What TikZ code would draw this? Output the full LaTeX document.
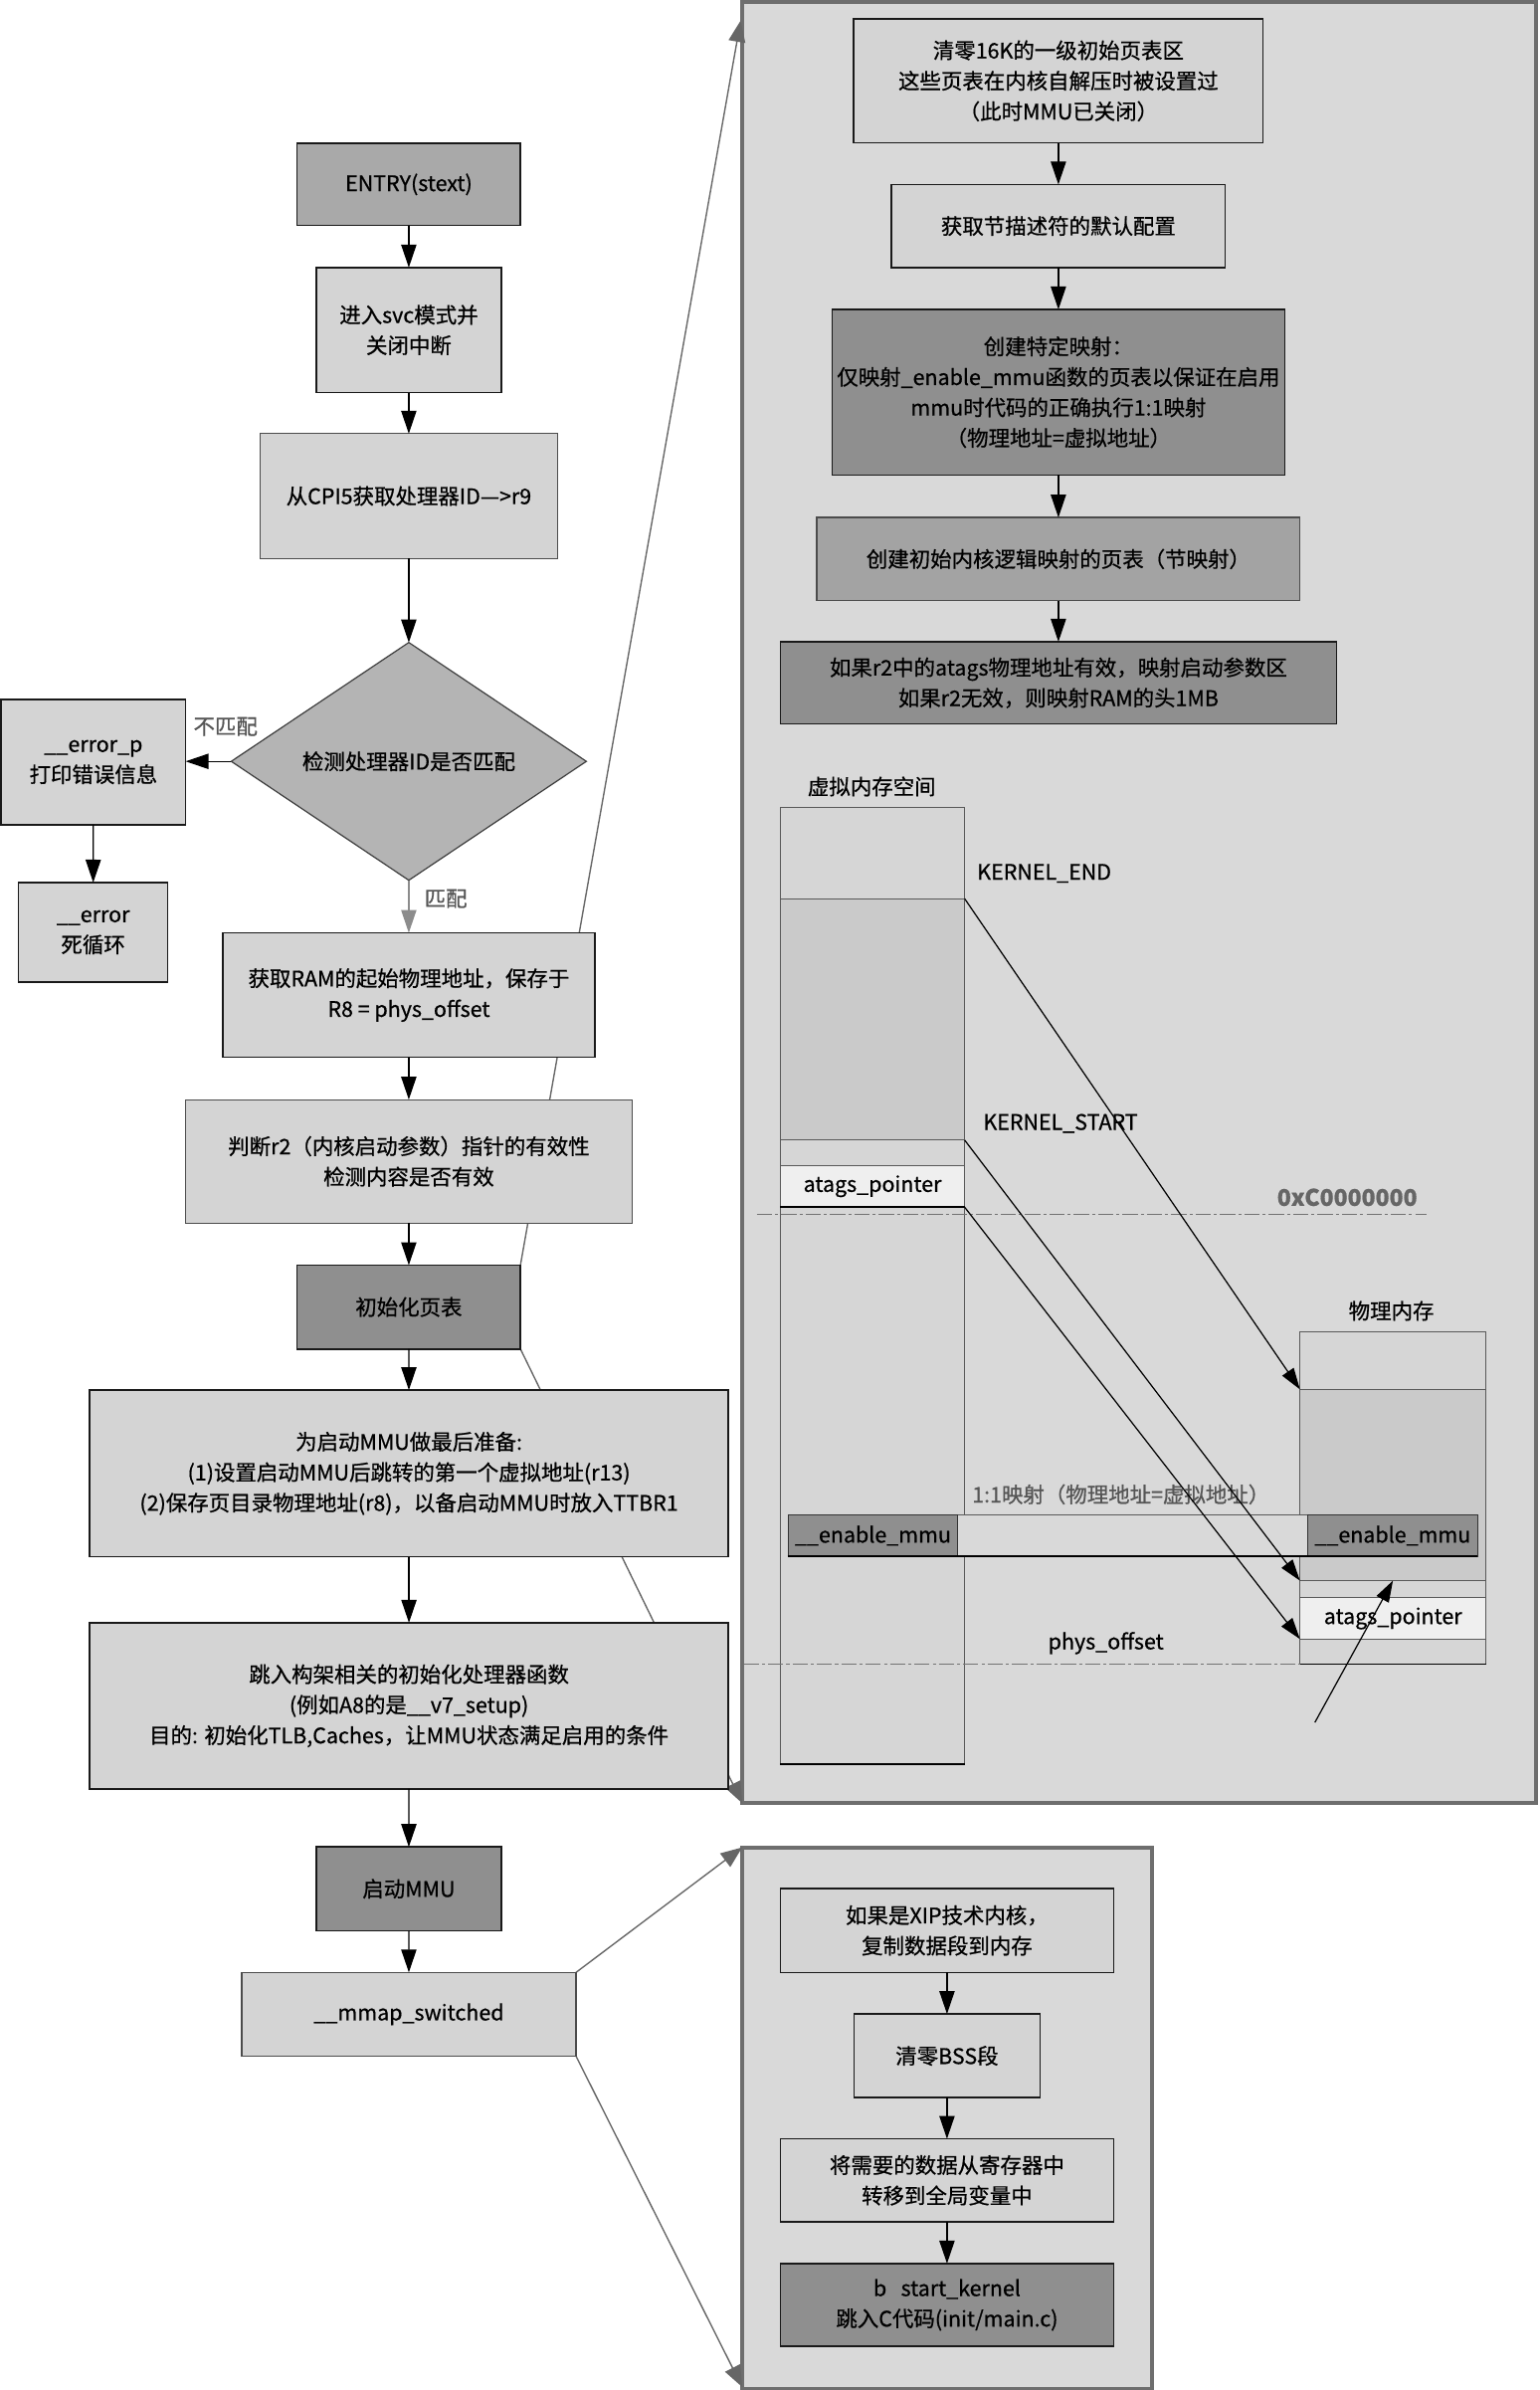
\documentclass[tikz,border=0pt]{standalone}
\usepackage{fontspec}
\setmainfont{Noto Sans CJK SC}[FakeBold=0.7]
\usetikzlibrary{arrows.meta,shapes.geometric}
\definecolor{panelfill}{HTML}{D9D9D9}
\definecolor{panelborder}{HTML}{6E6E6E}
\definecolor{lightbox}{HTML}{D4D4D4}
\definecolor{midbox}{HTML}{A9A9A9}
\definecolor{diafill}{HTML}{B4B4B4}
\definecolor{darkbox}{HTML}{8F8F8F}
\definecolor{midtwo}{HTML}{A3A3A3}
\definecolor{memlight}{HTML}{D6D6D6}
\definecolor{memdark}{HTML}{CACACA}
\definecolor{memwhite}{HTML}{EFEFEF}
\definecolor{graytext}{HTML}{555555}
\definecolor{linkgray}{HTML}{666666}
\pgfdeclarelayer{bg}
\pgfdeclarelayer{links}
\pgfsetlayers{bg,links,main}
\begin{document}
\begin{tikzpicture}[x=1pt,y=-1pt,
  box/.style={draw=black!90, line width=1pt, fill=lightbox, inner sep=0pt, outer sep=0pt,
    align=center, font=\fontsize{14}{20}\selectfont},
  boxthin/.style={box, draw=black!70, line width=0.8pt},
  panel/.style={draw=panelborder, line width=2.6pt, fill=panelfill, inner sep=0pt, outer sep=0pt},
  flow/.style={draw=black, line width=0.8pt, -{Triangle[length=15pt,width=10pt]}},
  matchflow/.style={draw=black!45, line width=0.8pt, -{Triangle[length=15pt,width=10pt]}},
  link/.style={draw=linkgray, line width=0.9pt, -{Triangle[length=14pt,width=11pt]}},
  mem/.style={draw=black!65, line width=0.6pt, inner sep=0pt, outer sep=0pt, font=\fontsize{14}{16}\selectfont},
  memarrow/.style={draw=black, line width=0.8pt, -{Triangle[length=14pt,width=9pt]}},
  lbl/.style={inner sep=0pt, font=\fontsize{14}{16}\selectfont},
  graylbl/.style={lbl, text=graytext},
  dashline/.style={draw=black!55, line width=0.6pt, dash pattern=on 10pt off 2pt on 2pt off 2pt}
]
\useasboundingbox (0,0) rectangle (1010,1568);

% ---------------- panels ----------------
\begin{pgfonlayer}{bg}
\node[panel, minimum width=521pt, minimum height=1182pt] (bigpanel) at (747.5,592) {};
\node[panel, minimum width=269pt, minimum height=355pt] (smallpanel) at (621.5,1389.5) {};
\end{pgfonlayer}

% ---------------- main flow ----------------
\node[box, fill=midbox, minimum width=146.5pt, minimum height=54pt] (entry) at (268.25,121) {ENTRY(stext)};
\node[box, minimum width=121.6pt, minimum height=82.1pt] (svc) at (268.25,216.55) {进入svc模式并\\关闭中断};
\node[boxthin, minimum width=195pt, minimum height=81.8pt] (cpi) at (268.25,325.4) {从CPI5获取处理器ID—>r9};
\node[draw=black!75, line width=0.8pt, fill=diafill, shape=diamond, inner sep=0pt, outer sep=0pt,
  minimum width=233pt, minimum height=156pt, font=\fontsize{14}{20}\selectfont] (dia) at (268.25,499.5) {检测处理器ID是否匹配};
\node[box, minimum width=121pt, minimum height=82pt] (errp) at (61.3,500) {\_\_error\_p\\打印错误信息};
\node[box, minimum width=97.8pt, minimum height=65.4pt] (err) at (61.1,611.7) {\_\_error\\死循环};
\node[box, minimum width=244pt, minimum height=81.7pt] (ram) at (268.25,652.85) {获取RAM的起始物理地址，保存于\\R8 = phys\_offset};
\node[boxthin, minimum width=292.7pt, minimum height=81pt] (rtwo) at (268.25,761.9) {判断r2（内核启动参数）指针的有效性\\检测内容是否有效};
\node[box, fill=darkbox, minimum width=146.5pt, minimum height=55pt] (initpt) at (268.25,857.5) {初始化页表};
\node[box, minimum width=419.3pt, minimum height=109.3pt] (prep) at (268.35,966.65) {为启动MMU做最后准备:\\(1)设置启动MMU后跳转的第一个虚拟地址(r13)\\(2)保存页目录物理地址(r8)，以备启动MMU时放入TTBR1};
\node[box, minimum width=419.3pt, minimum height=109.1pt] (jump) at (268.35,1119.15) {跳入构架相关的初始化处理器函数\\(例如A8的是\_\_v7\_setup)\\目的: 初始化TLB,Caches，让MMU状态满足启用的条件};
\node[box, fill=darkbox, minimum width=121.6pt, minimum height=54.9pt] (mmu) at (268.25,1239.15) {启动MMU};
\node[boxthin, minimum width=219.4pt, minimum height=55pt] (mmap) at (268.3,1321.5) {\_\_mmap\_switched};

\node[graylbl] (nomatch) at (148,476.7) {不匹配};
\node[graylbl] (match) at (292.5,589.6) {匹配};

\draw[flow] (entry) -- (svc);
\draw[flow] (svc) -- (cpi);
\draw[flow] (cpi) -- (dia);
\draw[flow] (dia.west) -- (dia.west -| errp.east);
\draw[flow] (errp) -- (err);
\draw[matchflow] (dia.south) -- (ram.north);
\draw[flow] (ram) -- (rtwo);
\draw[flow] (rtwo) -- (initpt);
\draw[flow] (initpt) -- (prep);
\draw[flow] (prep) -- (jump);
\draw[flow] (jump) -- (mmu);
\draw[flow] (mmu) -- (mmap);

% ---------------- links to panels ----------------
\coordinate (ptl) at (486,13.5);
\coordinate (pbl) at (487,1183);
\coordinate (qtl) at (487,1212);
\coordinate (qbl) at (487,1566);
\begin{pgfonlayer}{links}
\draw[link] (initpt.north east) -- (ptl);
\draw[link] (initpt.south east) -- (pbl);
\draw[link] (mmap.north east) -- (qtl);
\draw[link] (mmap.south east) -- (qbl);
\end{pgfonlayer}

% ---------------- big panel flow ----------------
\node[box, minimum width=268.6pt, minimum height=81.2pt] (zone) at (694.5,53.1) {清零16K的一级初始页表区\\这些页表在内核自解压时被设置过\\（此时MMU已关闭）};
\node[box, minimum width=219pt, minimum height=54.5pt] (ztwo) at (694.5,148.25) {获取节描述符的默认配置};
\node[box, fill=darkbox, minimum width=297pt, minimum height=108.7pt] (zthree) at (694.5,257.35) {创建特定映射：\\仅映射\_enable\_mmu函数的页表以保证在启用\\mmu时代码的正确执行1:1映射\\（物理地址=虚拟地址）};
\node[boxthin, fill=midtwo, minimum width=317pt, minimum height=54.5pt] (zfour) at (694.5,366.75) {创建初始内核逻辑映射的页表（节映射）};
\node[box, fill=darkbox, minimum width=365pt, minimum height=54pt] (zfive) at (694.5,448) {如果r2中的atags物理地址有效，映射启动参数区\\如果r2无效，则映射RAM的头1MB};
\draw[flow] (zone) -- (ztwo);
\draw[flow] (ztwo) -- (zthree);
\draw[flow] (zthree) -- (zfour);
\draw[flow] (zfour) -- (zfive);

% ---------------- memory diagram ----------------
\node[lbl] (vlabel) at (572,516) {虚拟内存空间};
\node[mem, fill=memlight, minimum width=121pt, minimum height=59.6pt] (vtop) at (572.5,559.8) {};
\node[mem, fill=memdark, minimum width=121pt, minimum height=158.4pt] (vkern) at (572.5,668.8) {};
\node[mem, fill=memlight, minimum width=121pt, minimum height=16.5pt] (vgap) at (572.5,756.25) {};
\node[mem, fill=memwhite, minimum width=121pt, minimum height=27.5pt] (vatags) at (572.5,778.25) {atags\_pointer};
\node[mem, fill=memlight, minimum width=121pt, minimum height=365.3pt] (vlow) at (572.5,974.65) {};
\draw[line width=1.2pt] (vatags.south west) -- (vatags.south east);
\draw[line width=1.4pt] (vlow.south west) -- (vlow.south east);

\node[lbl, anchor=west] (kend) at (641,573) {KERNEL\_END};
\node[lbl, anchor=west] (kstart) at (645,737) {KERNEL\_START};
\node[lbl, text=black!60, font=\fontsize{15}{16}\selectfont\bfseries] (caddr) at (884,785.5) {0xC0000000};

\node[lbl] (plabel) at (913,860) {物理内存};
\node[mem, fill=memlight, minimum width=122pt, minimum height=37.8pt] (ptop) at (914,892.6) {};
\node[mem, fill=memdark, minimum width=122pt, minimum height=125.5pt] (pkern) at (914,974.25) {};
\node[mem, fill=memlight, minimum width=122pt, minimum height=11.3pt] (pgap) at (914,1042.65) {};
\node[mem, fill=memwhite, minimum width=122pt, minimum height=27pt] (patags) at (914,1061.8) {atags\_pointer};
\node[mem, fill=memlight, minimum width=122pt, minimum height=16.5pt] (plow) at (914,1083.55) {};
\draw[line width=1pt] (plow.south west) -- (plow.south east);

% 1:1 band
\node[mem, fill=panelfill, minimum width=453pt, minimum height=27.1pt] (band) at (743.5,1007.45) {};
\draw[line width=1.3pt] (band.south west) -- (band.south east);
\node[mem, draw=black!80, fill=darkbox, minimum width=111.6pt, minimum height=27.1pt] (venable) at (572.8,1007.45) {\_\_enable\_mmu};
\node[mem, draw=black!80, fill=darkbox, minimum width=111.6pt, minimum height=27.1pt] (penable) at (913.8,1007.45) {\_\_enable\_mmu};
\draw[line width=1.3pt] (venable.south west) -- (penable.south east);
\node[graylbl] (onetoone) at (735.5,980.4) {1:1映射（物理地址=虚拟地址）};

% dashed address lines
\coordinate (dashA) at (496.6,797);
\coordinate (dashB) at (936,797);
\draw[dashline] (dashA) -- (dashB);
\coordinate (dashC) at (488,1091.8);
\draw[dashline] (dashC) -- (plow.south west);
\node[lbl] (physoff) at (725.7,1078) {phys\_offset};

% mapping arrows
\draw[memarrow] (vtop.south east) -- (pkern.north west);
\draw[memarrow] (vkern.south east) -- (pgap.north west);
\draw[memarrow] (vatags.south east) -- (patags.south west);
\coordinate (atail) at (862.8,1130);
\draw[memarrow] (atail) -- (pgap.north);

% ---------------- small panel ----------------
\node[box, minimum width=218.8pt, minimum height=55pt] (qone) at (621.4,1266.5) {如果是XIP技术内核，\\复制数据段到内存};
\node[box, minimum width=122pt, minimum height=54.9pt] (qtwo) at (621.4,1348.75) {清零BSS段};
\node[box, minimum width=218.8pt, minimum height=54.4pt] (qthree) at (621.4,1430.4) {将需要的数据从寄存器中\\转移到全局变量中};
\node[box, fill=darkbox, minimum width=218.8pt, minimum height=54.3pt] (qfour) at (621.4,1512.15) {b\ \ \ start\_kernel\\跳入C代码(init/main.c)};
\draw[flow] (qone) -- (qtwo);
\draw[flow] (qtwo) -- (qthree);
\draw[flow] (qthree) -- (qfour);
\end{tikzpicture}
\end{document}
